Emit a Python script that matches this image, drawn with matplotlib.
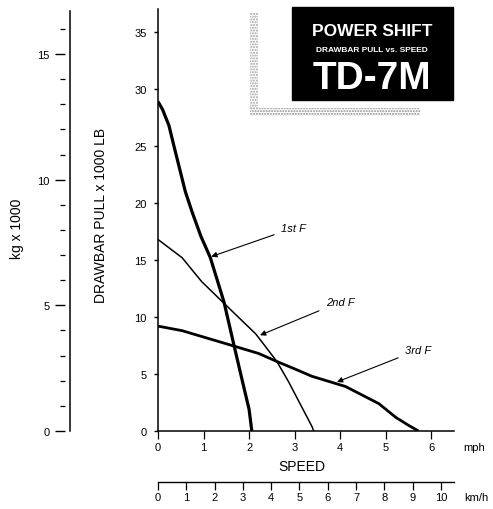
import matplotlib
matplotlib.use("Agg")
import matplotlib.pyplot as plt
from matplotlib.patches import Rectangle

plt.rcParams['font.family'] = ['Liberation Sans', 'DejaVu Sans']

# ---- data ----
first_speed = [0, 0.10, 0.24, 0.35, 0.50, 0.60, 0.75, 0.94, 1.15, 1.45, 1.67, 1.84, 2.00, 2.06]
first_pull = [28.9, 28.2, 26.8, 25.0, 22.6, 21.0, 19.2, 17.1, 15.2, 11.3, 7.5, 4.6, 1.9, 0.0]

second_speed = [0, 0.53, 0.96, 1.45, 2.15, 2.61, 2.87, 3.38, 3.42]
second_pull = [16.8, 15.2, 13.1, 11.2, 8.5, 6.1, 4.3, 0.4, 0.0]

third_speed = [0, 0.53, 1.12, 1.71, 2.21, 2.61, 3.00, 3.38, 4.12, 4.85, 5.22, 5.50, 5.72]
third_pull = [9.2, 8.8, 8.1, 7.4, 6.8, 6.1, 5.45, 4.8, 3.9, 2.4, 1.2, 0.5, 0.0]

curve_names = ["1st F", "2nd F", "3rd F"]
arrow_tips = [(1.17, 15.3), (2.24, 8.4), (3.93, 4.3)]
label_pos = [(2.70, 17.8), (3.68, 11.3), (5.42, 7.1)]

mph_ticks = [0, 1, 2, 3, 4, 5, 6]
lb_ticks = [0, 5, 10, 15, 20, 25, 30, 35]
kmh_ticks = [0, 1, 2, 3, 4, 5, 6, 7, 8, 9, 10]
kg_major = [0, 5, 10, 15]
kg_minor = list(range(0, 17))

MPH_TO_KMH = 1.609344
LB_PER_KG = 2.20462

W, H = 493, 510
fig = plt.figure(figsize=(W / 100, H / 100), dpi=100)


def fx(px):
    return px / W


def fy(py):
    return 1 - py / H


# ---- main axes ----
x_max = 6.5
y_top_px, y0_px = 10, 432
px_per_lb = 11.4
y_max = (y0_px - y_top_px) / px_per_lb
ax = fig.add_axes([fx(158), fy(y0_px), (454 - 158) / W, (y0_px - y_top_px) / H])
ax.set_xlim(0, x_max)
ax.set_ylim(0, y_max)
for s in ['top', 'right']:
    ax.spines[s].set_visible(False)
for s in ['left', 'bottom']:
    ax.spines[s].set_linewidth(1.1)
ax.set_xticks(mph_ticks)
ax.set_yticks(lb_ticks)
ax.tick_params(axis='y', direction='out', length=3, width=1.0, pad=5, labelsize=8)
ax.tick_params(axis='x', direction='out', length=6, width=0.9, pad=2, labelsize=8)

ax.plot(first_speed, first_pull, color='black', lw=2.3, solid_capstyle='butt')
ax.plot(second_speed, second_pull, color='black', lw=1.1)
ax.plot(third_speed, third_pull, color='black', lw=2.0, solid_capstyle='butt')

for name, tip, pos in zip(curve_names, arrow_tips, label_pos):
    ax.annotate(name, xy=tip, xytext=pos, ha='left', va='center',
                fontsize=8, style='italic',
                arrowprops=dict(arrowstyle='-|>', color='black', lw=0.8,
                                mutation_scale=8, shrinkA=3, shrinkB=0))

fig.text(fx(463), fy(448), "mph", fontsize=8, ha='left', va='center')
fig.text(fx(302), fy(467), "SPEED", fontsize=10, ha='center', va='center')
fig.text(fx(101), fy(215), "DRAWBAR PULL x 1000 LB", fontsize=10,
         rotation=90, ha='center', va='center')

# ---- km/h axis ----
axk = fig.add_axes([fx(158), fy(483), (454 - 158) / W, 0.001])
axk.set_xlim(0, x_max * MPH_TO_KMH)
axk.set_ylim(0, 1)
for s in ['top', 'right', 'left']:
    axk.spines[s].set_visible(False)
axk.spines['bottom'].set_linewidth(1.0)
axk.set_yticks([])
axk.set_xticks(kmh_ticks)
axk.tick_params(axis='x', direction='out', length=6, width=0.9, pad=1, labelsize=8)
axk.patch.set_visible(False)
fig.text(fx(464), fy(498), "km/h", fontsize=8, ha='left', va='center')

# ---- kg axis ----
kg_top_px = 12
axg = fig.add_axes([fx(65), fy(y0_px), 5 / W, (y0_px - kg_top_px) / H])
axg.set_ylim(0, (y0_px - kg_top_px) / px_per_lb / LB_PER_KG)
for s in ['top', 'left', 'bottom']:
    axg.spines[s].set_visible(False)
axg.spines['right'].set_linewidth(1.1)
axg.set_xticks([])
axg.set_yticks(kg_major)
axg.set_yticks(kg_minor, minor=True)
axg.yaxis.set_ticks_position('left')
axg.tick_params(axis='y', which='major', direction='out', length=7, width=1.0, pad=4, labelsize=8)
axg.tick_params(axis='y', which='minor', direction='out', length=3.5, width=0.9)
axg.patch.set_visible(False)
fig.text(fx(17), fy(229), "kg x 1000", fontsize=10, rotation=90, ha='center', va='center')

# ---- title block ----
fig.patches.append(Rectangle((fx(250), fy(110)), 8 / W, 97 / H, transform=fig.transFigure,
                             facecolor='white', edgecolor='#a0a0a0', hatch='......', lw=0))
fig.patches.append(Rectangle((fx(250), fy(117)), 170 / W, 8 / H, transform=fig.transFigure,
                             facecolor='white', edgecolor='#909090', hatch='......', lw=0))
fig.patches.append(Rectangle((fx(292), fy(101)), (453 - 292) / W, (101 - 8) / H,
                             transform=fig.transFigure, facecolor='black', edgecolor='black'))
fig.text(fx(372), fy(32), "POWER SHIFT", color='white', fontsize=12.5, fontweight='bold',
         ha='center', va='center')
fig.text(fx(372), fy(50), "DRAWBAR PULL vs. SPEED", color='white', fontsize=6, fontweight='bold',
         ha='center', va='center')
fig.text(fx(372), fy(79), "TD-7M", color='white', fontsize=28, fontweight='bold',
         ha='center', va='center')

fig.savefig("out.png", dpi=100)
